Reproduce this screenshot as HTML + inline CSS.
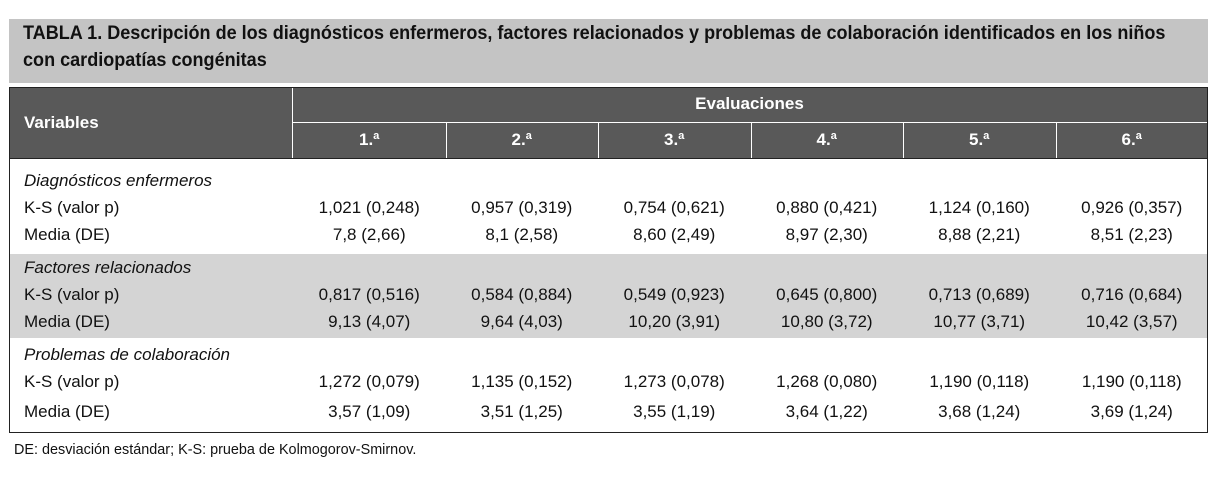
<!DOCTYPE html>
<html><head><meta charset="utf-8"><style>
body{margin:0;width:1217px;height:482px;background:#fff;position:relative;font-family:"Liberation Sans Narrow","Liberation Sans",sans-serif;color:#111;overflow:hidden}
.a{position:absolute;white-space:nowrap}
.title{left:9px;top:19px;width:1199px;height:64px;background:#c4c4c4}
.title div{position:absolute;left:14px;font-weight:bold;font-size:19px;color:#111;transform:scaleX(0.95);transform-origin:left center}
.head{left:9px;top:87px;width:1197px;height:70px;background:#595959;border:1px solid #222}
.hw{color:#fff;font-weight:bold;font-size:17px}
.band{left:10px;top:254px;width:1197px;height:84px;background:#d4d4d4}
.tbl{left:9px;top:87px;width:1197px;height:344px;border:1px solid #222}
.c{font-size:17px;text-align:center;width:152px}
.l{font-size:17px}
.i{font-style:italic;font-size:17px}
</style></head><body>
<div class="a title"><div style="top:4px">TABLA 1. Descripción de los diagnósticos enfermeros, factores relacionados y problemas de colaboración identificados en los niños</div><div style="top:31px">con cardiopatías congénitas</div></div>
<div class="a band"></div>
<div class="a tbl"></div>
<div class="a head"></div>
<div class="a" style="left:292px;top:88px;width:1px;height:70px;background:#fff"></div>
<div class="a" style="left:292px;top:122px;width:915px;height:1px;background:#fff"></div>
<div class="a hw" style="left:24px;top:113px">Variables</div>
<div class="a hw" style="left:292px;width:915px;text-align:center;top:94px">Evaluaciones</div>
<div class="a" style="left:14px;top:441px;font-size:15px;transform:scaleX(0.96);transform-origin:left center">DE: desviación estándar; K-S: prueba de Kolmogorov-Smirnov.</div>
<script>
const evals=["1.ª","2.ª","3.ª","4.ª","5.ª","6.ª"];
const sections=["Diagnósticos enfermeros","Factores relacionados","Problemas de colaboración"];
const ksVals=[["1,021 (0,248)","0,957 (0,319)","0,754 (0,621)","0,880 (0,421)","1,124 (0,160)","0,926 (0,357)"],["0,817 (0,516)","0,584 (0,884)","0,549 (0,923)","0,645 (0,800)","0,713 (0,689)","0,716 (0,684)"],["1,272 (0,079)","1,135 (0,152)","1,273 (0,078)","1,268 (0,080)","1,190 (0,118)","1,190 (0,118)"]];
const mediaVals=[["7,8 (2,66)","8,1 (2,58)","8,60 (2,49)","8,97 (2,30)","8,88 (2,21)","8,51 (2,23)"],["9,13 (4,07)","9,64 (4,03)","10,20 (3,91)","10,80 (3,72)","10,77 (3,71)","10,42 (3,57)"],["3,57 (1,09)","3,51 (1,25)","3,55 (1,19)","3,64 (1,22)","3,68 (1,24)","3,69 (1,24)"]];
const secTop=[171,258,345], rowDy=[27,54];
const root=document.body;
function mk(cls,txt,x,y,w){const d=document.createElement('div');d.className='a '+cls;d.textContent=txt;d.style.left=x+'px';d.style.top=y+'px';if(w)d.style.width=w+'px';root.appendChild(d);return d;}
const x0=293,cw=152.5;
evals.forEach((e,i)=>{const d=mk('hw c',e,x0+i*cw,130,cw);


if(i>0){const v=mk('','',x0+i*cw,123);v.style.width='1px';v.style.height='35px';v.style.background='#fff';

}});
sections.forEach((s,k)=>{const t=secTop[k];
const h=mk('i',s,24,t);


const dy=k==2?[27,57]:rowDy;
const a=mk('l','K-S (valor p)',24,t+dy[0]);


const b=mk('l','Media (DE)',24,t+dy[1]);


for(let i=0;i<6;i++){
const c1=mk('c',ksVals[k][i],x0+i*cw,t+dy[0],cw);


const c2=mk('c',mediaVals[k][i],x0+i*cw,t+dy[1],cw);

}});
</script>
</body></html>
